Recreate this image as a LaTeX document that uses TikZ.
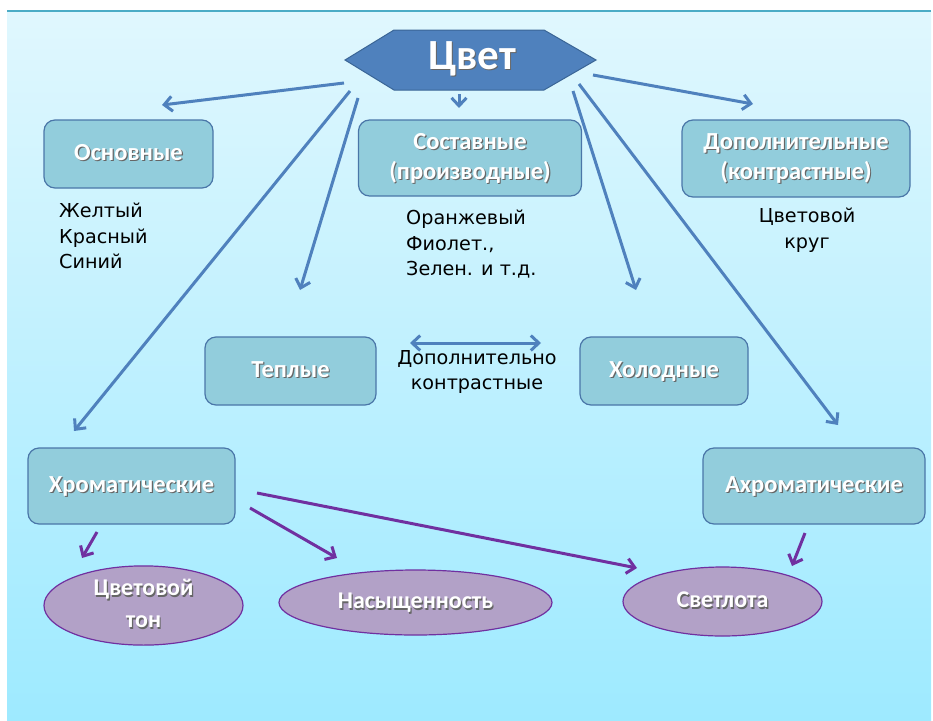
\documentclass[tikz,border=0pt]{standalone}
\usepackage{fontspec}
\setmainfont{DejaVu Sans}
\newfontfamily\boxfont{Carlito}
\usetikzlibrary{arrows.meta,shapes.geometric}
\definecolor{bgtop}{HTML}{E0F7FE}
\definecolor{bgbot}{HTML}{9EEAFF}
\definecolor{boxfill}{HTML}{92CDDC}
\definecolor{boxline}{HTML}{4A76A8}
\definecolor{hexfill}{HTML}{4F81BD}
\definecolor{hexline}{HTML}{3A6596}
\definecolor{ellfill}{HTML}{B2A1C7}
\definecolor{ellline}{HTML}{7030A0}
\definecolor{arrblue}{HTML}{4F81BD}
\definecolor{arrpurp}{HTML}{7030A0}
\definecolor{topline}{HTML}{4BACC6}
\newcommand\shd[1]{\strut\rlap{\kern1.2pt\raisebox{-1.2pt}{\textcolor{black!60}{#1}}}#1}
\begin{document}
\begin{tikzpicture}[x=1pt,y=-1pt,
  box/.style={draw=boxline, line width=1.2pt, fill=boxfill, rounded corners=11pt,
    text=white, font=\boxfont\bfseries\fontsize{24.5}{30}\selectfont, align=center, inner sep=0pt},
  ell/.style={ellipse, draw=ellline, line width=1.2pt, fill=ellfill, text=white,
    font=\boxfont\bfseries\fontsize{24}{32}\selectfont, align=center, inner sep=0pt},
  plain/.style={font=\fontsize{19.2}{25.5}\selectfont, inner sep=0pt},
  barr/.style={draw=arrblue, line width=3pt, -{Straight Barb[length=8pt,width=15pt]}},
  parr/.style={draw=arrpurp, line width=3pt, -{Straight Barb[length=8pt,width=15pt]}},
]
\useasboundingbox (0,0) rectangle (933,720);
\fill[white] (0,0) rectangle (933,720);
\shade[top color=bgtop, bottom color=bgbot] (7,11) rectangle (931,720);
\draw[topline, line width=1.5pt] (7,11) -- (931,11);

% hexagon
\coordinate (h1) at (345,60);
\coordinate (h2) at (394,30);
\coordinate (h3) at (544,30);
\coordinate (h4) at (596,60);
\coordinate (h5) at (544,90);
\coordinate (h6) at (394,90);
\draw[fill=hexfill, draw=hexline, line width=1pt] (h1) -- (h2) -- (h3) -- (h4) -- (h5) -- (h6) -- cycle;
\node (cvet) at (472,60) [text=white, font=\boxfont\bfseries\fontsize{43}{46}\selectfont, inner sep=0pt] {\shd{Цвет}};

% boxes
\node[box, minimum width=169pt, minimum height=68pt] (osn) at (128.5,154) {\shd{Основные}};
\node[box, minimum width=223pt, minimum height=76pt] (sost) at (470,158) {\shd{Составные}\\\shd{(производные)}};
\node[box, minimum width=228pt, minimum height=77pt] (dop) at (796,158.5) {\shd{Дополнительные}\\\shd{(контрастные)}};
\node[box, minimum width=171pt, minimum height=68pt] (tepl) at (290.5,371) {\shd{Теплые}};
\node[box, minimum width=168pt, minimum height=68pt] (hol) at (664,371) {\shd{Холодные}};
\node[box, minimum width=207pt, minimum height=76pt] (hrom) at (131.5,486) {\shd{Хроматические}};
\node[box, minimum width=222pt, minimum height=76pt] (ahrom) at (814,486) {\shd{Ахроматические}};

% ellipses
\node[ell, minimum width=199pt, minimum height=75pt, inner ysep=-4pt] (ton) at (143.5,605.5) {\shd{Цветовой}\\\shd{тон}};
\node[ell, minimum width=273pt, minimum height=65pt] (nas) at (415.5,602.5) {\shd{Насыщенность}};
\node[ell, minimum width=199pt, minimum height=69pt] (svet) at (722.5,601.5) {\shd{Светлота}};

% plain texts
\node[plain, anchor=north west, align=left] (t1) at (59,203) {Желтый\\Красный\\Синий};
\node[plain, anchor=north west, align=left] (t2) at (406,210) {Оранжевый\\Фиолет.,\\Зелен. и т.д.};
\node[plain, anchor=north, align=center] (t3) at (807,208) {Цветовой\\круг};
\node[plain, anchor=north, align=center] (t4) at (477,350) {Дополнительно\\контрастные};

% blue connectors
\coordinate (s1) at (344,83);  \coordinate (e1) at (162,105);
\coordinate (s2) at (459,94);  \coordinate (e2) at (459,108);
\coordinate (s3) at (593,75);  \coordinate (e3) at (753,104);
\coordinate (s4) at (350,91);  \coordinate (e4) at (74,431);
\coordinate (s5) at (358,98);  \coordinate (e5) at (300,290);
\coordinate (s6) at (573,91);  \coordinate (e6) at (636,290);
\coordinate (s7) at (579,84);  \coordinate (e7) at (838,425);
\coordinate (d1) at (410,343); \coordinate (d2) at (541,343);
\draw[barr] (s1) -- (e1);
\draw[barr] (s2) -- (e2);
\draw[barr] (s3) -- (e3);
\draw[barr] (s4) -- (e4);
\draw[barr] (s5) -- (e5);
\draw[barr] (s6) -- (e6);
\draw[barr] (s7) -- (e7);
\draw[barr, {Straight Barb[length=8pt,width=15pt]}-{Straight Barb[length=8pt,width=15pt]}] (d1) -- (d2);

% purple connectors
\coordinate (p1s) at (97,532);  \coordinate (p1e) at (82,558);
\coordinate (p2s) at (250,508); \coordinate (p2e) at (337,558);
\coordinate (p3s) at (257,493); \coordinate (p3e) at (637,568);
\coordinate (p4s) at (805,533); \coordinate (p4e) at (792,566);
\draw[parr] (p1s) -- (p1e);
\draw[parr] (p2s) -- (p2e);
\draw[parr] (p3s) -- (p3e);
\draw[parr] (p4s) -- (p4e);
\end{tikzpicture}
\end{document}
